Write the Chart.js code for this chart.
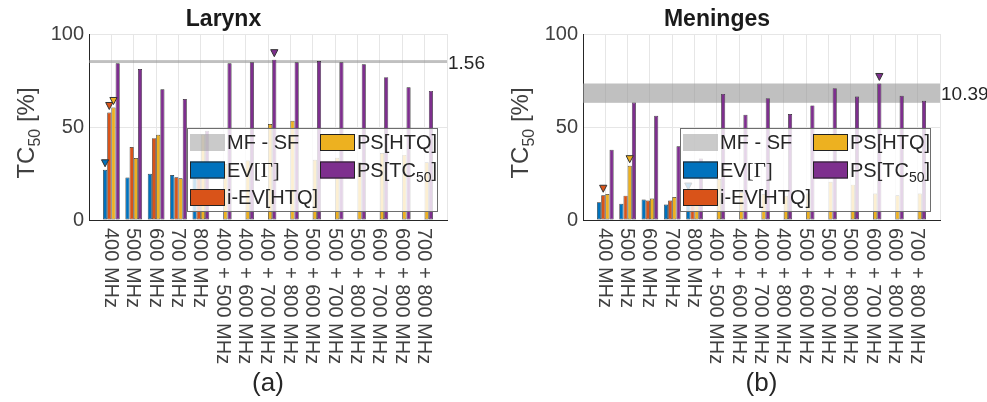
<!DOCTYPE html>
<html>
<head>
<meta charset="utf-8">
<script src="https://cdn.jsdelivr.net/npm/chart.js@4.4.0/dist/chart.umd.min.js"></script>
<style>
  html, body { margin: 0; padding: 0; background: #fff; }
  #wrap { position: relative; width: 987px; height: 402px; }
  .box { position: absolute; top: 0; height: 402px; }
</style>
</head>
<body>
<div id="wrap">
  <div class="box" style="left:0;width:494px"><canvas id="larynx"></canvas></div>
  <div class="box" style="left:494px;width:493px"><canvas id="meninges"></canvas></div>
</div>
<script>
// categories (one empty slot each side, like the matlab xlim)
const freqLabels = ['', '400 MHz', '500 MHz', '600 MHz', '700 MHz', '800 MHz',
  '400 + 500 MHz', '400 + 600 MHz', '400 + 700 MHz', '400 + 800 MHz',
  '500 + 600 MHz', '500 + 700 MHz', '500 + 800 MHz',
  '600 + 700 MHz', '600 + 800 MHz', '700 + 800 MHz', ''];

const yTicks = [0, 50, 100];

// Larynx
const larynxEV    = [null, 27.0, 22.8, 24.9, 24.2, 23.0, null, null, null, null, null, null, null, null, null, null, null];
const larynxIEV   = [null, 57.8, 39.2, 44.0, 23.0, 22.0, null, null, null, null, null, null, null, null, null, null, null];
const larynxPSHTQ = [null, 60.5, 33.3, 45.8, 22.4, 46.0, 30.0, 32.0, 51.6, 53.3, 32.4, 33.5, 31.0, 36.0, 35.0, 31.0, null];
const larynxPSTC  = [null, 84.3, 81.2, 70.3, 65.0, 48.0, 84.3, 84.8, 86.2, 84.8, 85.5, 84.8, 83.7, 76.8, 71.4, 69.4, null];
const larynxBest  = [1, 1, 1, 8];          // bar with the triangle, per series
const larynxBand  = [84.40, 85.96];       // MF - SF
const larynxSpread = '1.56';

// Meninges
const meningesEV    = [null, 9.5, 8.7, 11.0, 8.3, 14.5, null, null, null, null, null, null, null, null, null, null, null];
const meningesIEV   = [null, 13.3, 13.1, 10.5, 10.5, 12.0, null, null, null, null, null, null, null, null, null, null, null];
const meningesPSHTQ = [null, 14.0, 29.2, 11.5, 12.4, 12.0, 22.0, 15.0, 14.0, 13.0, 14.2, 20.6, 19.0, 14.2, 13.3, 14.2, null];
const meningesPSTC  = [null, 37.8, 63.2, 56.0, 39.6, 33.0, 67.8, 56.6, 65.5, 57.0, 61.6, 70.9, 66.4, 73.4, 66.8, 64.1, null];
const meningesBest  = [5, 1, 2, 13];
const meningesBand  = [63.00, 73.39];
const meningesSpread = '10.39';

const seriesNames  = ['EV[Γ]', 'i-EV[HTQ]', 'PS[HTQ]', 'PS[TC50]'];
const seriesColors = ['#0072BD', '#D95319', '#EDB120', '#7E2F8E'];

Chart.defaults.font.family = "'Liberation Sans', Arial, sans-serif";
const SANS = "'Liberation Sans', Arial, sans-serif";
const SERIF = "'Liberation Serif', 'Times New Roman', serif";
const TXT = '#404040';

// draw a run of [text, font, dy] pieces starting at x
function drawRuns(ctx, runs, x, y) {
  runs.forEach(r => {
    ctx.font = r[1];
    ctx.fillText(r[0], x, y + (r[2] || 0));
    x += ctx.measureText(r[0]).width;
  });
  return x;
}
function runsWidth(ctx, runs) {
  let w = 0;
  runs.forEach(r => { ctx.font = r[1]; w += ctx.measureText(r[0]).width; });
  return w;
}

const panelPlugin = {
  id: 'panel',
  beforeDatasetsDraw(chart, args, opts) {
    const {ctx, chartArea: a, scales: {y}} = chart;
    const y1 = y.getPixelForValue(opts.band[1]);
    const y2 = y.getPixelForValue(opts.band[0]);
    ctx.save();
    ctx.fillStyle = 'rgba(150,150,150,0.6)';
    ctx.fillRect(a.left, y1, a.right - a.left, y2 - y1);
    ctx.fillStyle = '#262626';
    ctx.font = '19px ' + SANS;
    ctx.textBaseline = 'middle';
    ctx.textAlign = 'left';
    ctx.fillText(opts.spread, a.right + 1, (y1 + y2) / 2 + 2);
    ctx.restore();
  },
  afterDatasetsDraw(chart, args, opts) {
    const ctx = chart.ctx;
    ctx.save();
    opts.best.forEach((idx, i) => {
      const el = chart.getDatasetMeta(i).data[idx];
      if (!el) return;
      const tip = el.y - 3;
      ctx.beginPath();
      ctx.moveTo(el.x, tip);
      ctx.lineTo(el.x - 3.6, tip - 7);
      ctx.lineTo(el.x + 3.6, tip - 7);
      ctx.closePath();
      ctx.fillStyle = seriesColors[i];
      ctx.fill();
      ctx.strokeStyle = '#333';
      ctx.lineWidth = 1;
      ctx.stroke();
    });
    ctx.restore();
  },
  afterDraw(chart, args, opts) {
    const {ctx, chartArea: a, scales: {x}} = chart;
    ctx.save();
    // x tick labels, reading downward
    ctx.fillStyle = TXT;
    ctx.font = '20px ' + SANS;
    ctx.textAlign = 'left';
    ctx.textBaseline = 'middle';
    freqLabels.forEach((lab, i) => {
      if (!lab) return;
      ctx.save();
      ctx.translate(x.getPixelForTick(i) - 1, a.bottom + 8);
      ctx.rotate(Math.PI / 2);
      ctx.fillText(lab, 0, 0);
      ctx.restore();
    });

    // y title TC50 [%]
    const yt = [['TC', '24px ' + SANS], ['50', '16px ' + SANS, 6], [' [%]', '24px ' + SANS]];
    ctx.save();
    ctx.translate(34, 133);
    ctx.rotate(-Math.PI / 2);
    ctx.textBaseline = 'alphabetic';
    drawRuns(ctx, yt, -runsWidth(ctx, yt) / 2, 0);
    ctx.restore();

    // caption
    ctx.font = '26px ' + SANS;
    ctx.textAlign = 'center';
    ctx.textBaseline = 'middle';
    ctx.fillStyle = '#262626';
    ctx.fillText(opts.caption, (a.left + a.right) / 2, 384);

    // legend box inside the axes
    const lw = 250, lh = 83;
    const lx = a.right - 10 - lw, ly = a.top + 94;
    ctx.fillStyle = 'rgba(255,255,255,0.8)';
    ctx.fillRect(lx, ly, lw, lh);
    ctx.strokeStyle = '#6e6e6e';
    ctx.lineWidth = 1;
    ctx.strokeRect(lx + 0.5, ly + 0.5, lw, lh);

    const rows = [14.5, 42, 69.5];
    const items = [
      {col: 0, row: 0, fill: 'rgba(150,150,150,0.5)', edge: null, runs: [['MF - SF', '20px ' + SANS]]},
      {col: 0, row: 1, fill: seriesColors[0], edge: '#222', runs: [['EV', '20px ' + SANS], ['[Γ]', '21px ' + SERIF]]},
      {col: 0, row: 2, fill: seriesColors[1], edge: '#222', runs: [['i-EV[HTQ]', '20px ' + SANS]]},
      {col: 1, row: 0, fill: seriesColors[2], edge: '#222', runs: [['PS[HTQ]', '20px ' + SANS]]},
      {col: 1, row: 1, fill: seriesColors[3], edge: '#222', runs: [['PS[TC', '20px ' + SANS], ['50', '14px ' + SANS, 7], [']', '20px ' + SANS]]}
    ];
    ctx.textAlign = 'left';
    ctx.textBaseline = 'middle';
    items.forEach(it => {
      const sx = lx + (it.col ? 133 : 3);
      const cy = ly + rows[it.row];
      ctx.fillStyle = it.fill;
      ctx.fillRect(sx, cy - 8.5, 35, 17);
      if (it.edge) {
        ctx.strokeStyle = it.edge;
        ctx.strokeRect(sx + 0.5, cy - 8, 34, 16);
      }
      ctx.fillStyle = '#262626';
      drawRuns(ctx, it.runs, sx + 37, cy + 1);
    });
    ctx.restore();
  }
};

function makePanel(id, title, caption, ev, iev, pshtq, pstc, best, band, spread) {
  const values = [ev, iev, pshtq, pstc];
  new Chart(document.getElementById(id), {
    type: 'bar',
    data: {
      labels: freqLabels,
      datasets: values.map((d, i) => ({
        label: seriesNames[i],
        data: d,
        backgroundColor: seriesColors[i],
        borderColor: '#262626',
        borderWidth: 0.7,
        borderSkipped: false,
        categoryPercentage: 0.75,
        barPercentage: 0.98
      }))
    },
    options: {
      responsive: true,
      maintainAspectRatio: false,
      animation: false,
      devicePixelRatio: 1,
      layout: {padding: {left: 0, right: 47, top: 0, bottom: 182}},
      plugins: {
        legend: {display: false},
        tooltip: {enabled: false},
        title: {
          display: true,
          text: title,
          color: '#1a1a1a',
          font: {size: 23, weight: 'bold'},
          padding: {top: 6, bottom: 0.4}
        },
        panel: {caption, best, band, spread}
      },
      scales: {
        x: {
          offset: false,
          ticks: {display: false},
          grid: {offset: false, color: '#e6e6e6', drawTicks: false},
          border: {color: '#262626', width: 1}
        },
        y: {
          min: 0,
          max: 100,
          afterBuildTicks: s => { s.ticks = yTicks.map(v => ({value: v})); },
          afterFit: s => { s.width = 89; },
          ticks: {color: TXT, font: {size: 20}, padding: 5},
          grid: {color: '#e6e6e6', drawTicks: false},
          border: {color: '#262626', width: 1}
        }
      }
    },
    plugins: [panelPlugin]
  });
}

makePanel('larynx', 'Larynx', '(a)', larynxEV, larynxIEV, larynxPSHTQ, larynxPSTC, larynxBest, larynxBand, larynxSpread);
makePanel('meninges', 'Meninges', '(b)', meningesEV, meningesIEV, meningesPSHTQ, meningesPSTC, meningesBest, meningesBand, meningesSpread);
</script>
</body>
</html>
